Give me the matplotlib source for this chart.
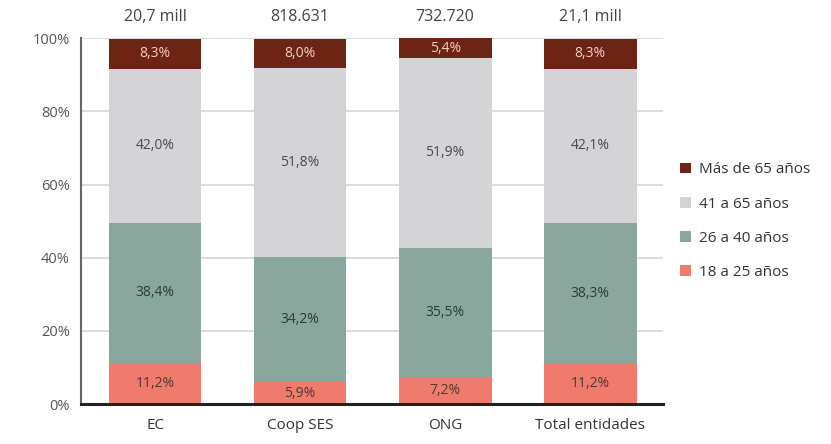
import matplotlib
matplotlib.use("Agg")
import matplotlib.pyplot as plt
from matplotlib.patches import Patch
import numpy as np

categories = ["EC", "Coop SES", "ONG", "Total entidades"]
totals = ["20,7 mill", "818.631", "732.720", "21,1 mill"]
series_names = ["18 a 25 años", "26 a 40 años", "41 a 65 años", "Más de 65 años"]
s18_25 = [11.2, 5.9, 7.2, 11.2]
s26_40 = [38.4, 34.2, 35.5, 38.3]
s41_65 = [42.0, 51.8, 51.9, 42.1]
s65 = [8.3, 8.0, 5.4, 8.3]
yticks = [0, 20, 40, 60, 80, 100]

colors = ["#f07b6c", "#8aa79d", "#d4d4d7", "#6e2414"]
text_colors = ["#4a3a38", "#2f3a38", "#4a4a4a", "#f3cfc2"]

plt.rcParams['font.family'] = ['Open Sans', 'DejaVu Sans']

fig = plt.figure(figsize=(8.31, 4.44), dpi=100)
ax = fig.add_axes([0.0975, 0.09, 0.70, 0.824])

x = np.arange(len(categories))
width = 0.64
bottom = np.zeros(len(categories))
handles = []
for vals, col, tcol, name in zip([s18_25, s26_40, s41_65, s65], colors, text_colors, series_names):
    vals = np.array(vals)
    ax.bar(x, vals, width, bottom=bottom, color=col, zorder=2)
    for xi, v, b in zip(x, vals, bottom):
        ax.text(xi, b + v / 2, f"{v:.1f}%".replace(".", ","), ha="center", va="center",
                fontsize=10, color=tcol, zorder=3)
    handles.append(Patch(facecolor=col, label=name))
    bottom += vals

for xi, t in zip(x, totals):
    ax.text(xi, 103.5, t, ha="center", va="bottom", fontsize=11.5, color="#444444")

ax.set_xlim(-0.51, 3.5)
ax.set_ylim(0, 100)
ax.set_yticks(yticks)
ax.set_yticklabels([f"{t}%" for t in yticks], fontsize=10.5, color="#555555")
ax.set_xticks(x)
ax.set_xticklabels(categories, fontsize=11, color="#333333")
ax.tick_params(axis="both", length=0, pad=8)
ax.tick_params(axis="x", pad=10)
ax.yaxis.grid(True, color="#d5d5d5", linewidth=1.2, zorder=0)
ax.set_axisbelow(True)
for s in ["top", "right"]:
    ax.spines[s].set_visible(False)
ax.spines["left"].set_color("#666666")
ax.spines["left"].set_linewidth(1.5)
ax.spines["bottom"].set_color("#222222")
ax.spines["bottom"].set_linewidth(2.2)

leg = fig.legend(handles=handles[::-1], loc="upper left", bbox_to_anchor=(0.802, 0.665),
                 frameon=False, fontsize=11, handlelength=0.7, handleheight=0.7,
                 handletextpad=0.5, labelspacing=1.25, labelcolor="#333333")

fig.savefig("out.png", dpi=100)
